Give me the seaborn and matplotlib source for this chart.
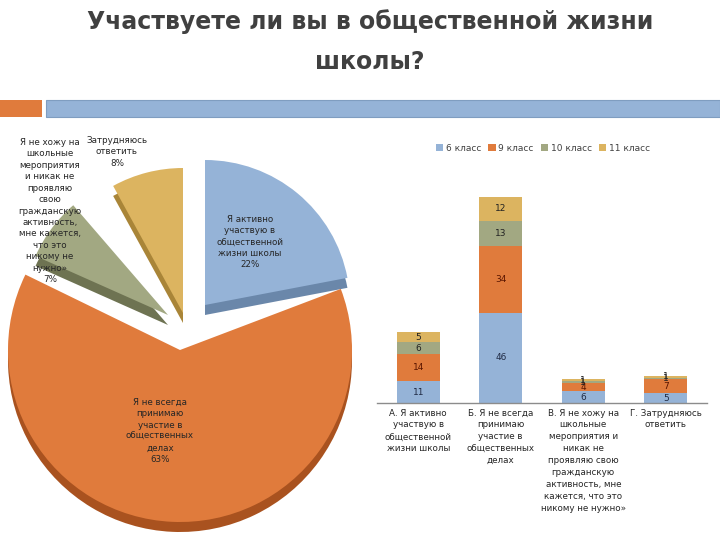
import matplotlib
matplotlib.use("Agg")
import matplotlib.pyplot as plt
from matplotlib.patches import Rectangle, Patch
import seaborn as sns
import pandas as pd
import numpy as np

# ---------------- data ----------------
title_line1 = "Участвуете ли вы в общественной жизни"
title_line2 = "школы?"

pie_labels = [
    "Я активно\nучаствую в\nобщественной\nжизни школы\n22%",
    "Я не всегда\nпринимаю\nучастие в\nобщественных\nделах\n63%",
    "Я не хожу на\nшкольные\nмероприятия\nи никак не\nпроявляю\nсвою\nгражданскую\nактивность,\nмне кажется,\nчто это\nникому не\nнужно»\n7%",
    "Затрудняюсь\nответить\n8%",
]
pie_values = [22, 63, 7, 8]

categories = [
    "А. Я активно\nучаствую в\nобщественной\nжизни школы",
    "Б. Я не всегда\nпринимаю\nучастие в\nобщественных\nделах",
    "В. Я не хожу на\nшкольные\nмероприятия и\nникак не\nпроявляю свою\nгражданскую\nактивность, мне\nкажется, что это\nникому не нужно»",
    "Г. Затрудняюсь\nответить",
]
series_names = ["6 класс", "9 класс", "10 класс", "11 класс"]
class6 = [11, 46, 6, 5]
class9 = [14, 34, 4, 7]
class10 = [6, 13, 1, 1]
class11 = [5, 12, 1, 1]

# ---------------- style ----------------
sns.set_theme(style="white")
plt.rcParams["font.family"] = ["DejaVu Sans"]

colors = ["#95B3D7", "#E07B3C", "#A2A882", "#DCB460"]
dark_colors = ["#6A87AA", "#A9521F", "#6E7352", "#A98538"]
label_colors = ["#1F2A44", "#5A1500", "#222222", "#222222"]

W, H = 720, 540
fig = plt.figure(figsize=(W / 100, H / 100), dpi=100)
fig.patch.set_facecolor("white")


def fx(x):
    return x / W


def fy(y):
    return 1 - y / H


# ---------------- title ----------------
fig.text(fx(370), fy(22), title_line1, ha="center", va="center",
         fontsize=17, fontweight="bold", color="#404040")
fig.text(fx(370), fy(62), title_line2, ha="center", va="center",
         fontsize=17, fontweight="bold", color="#404040")

# header bar
fig.patches.append(Rectangle((fx(0), fy(117)), fx(42), (117 - 100) / H,
                             transform=fig.transFigure, facecolor="#E07B3C",
                             edgecolor="none"))
fig.patches.append(Rectangle((fx(46), fy(117)), fx(720 - 46), (117 - 100) / H,
                             transform=fig.transFigure, facecolor="#95B3D7",
                             edgecolor="#7F9DC0", linewidth=0.8))

# ---------------- pie (3D-like, pixel data units) ----------------
PX0, PY0, PX1, PY1 = 0, 150, 370, 540
ax_pie = fig.add_axes([fx(PX0), fy(PY1), (PX1 - PX0) / W, (PY1 - PY0) / H])
# per wedge: apex (px), radius (px), start angle of the pie rotation
wedge_geom = [
    ((205, 305), 145, 90),
    ((180, 350), 172, 100),
    ((168, 315), 145, 102),
    ((183, 313), 145, 90),
]
depth = 10
transparent = (0, 0, 0, 0)
for i, ((apx, apy), r, sa) in enumerate(wedge_geom):
    cx, cy = apx, PY1 - apy
    for shade, dy in ((dark_colors, -depth), (colors, 0)):
        cols = [shade[k] if k == i else transparent for k in range(len(pie_values))]
        ax_pie.pie(pie_values, colors=cols, startangle=sa, counterclock=False,
                   radius=r, center=(cx, cy + dy), frame=True,
                   wedgeprops=dict(linewidth=0))
ax_pie.set_aspect("auto")
ax_pie.set_xlim(PX0, PX1)
ax_pie.set_ylim(0, PY1 - PY0)
ax_pie.axis("off")

pie_label_pos = [(250, 242), (160, 431), (50, 211), (117, 152)]
for txt, (px, py) in zip(pie_labels, pie_label_pos):
    fig.text(fx(px), fy(py), txt, ha="center", va="center", fontsize=6.3,
             color="#262626", linespacing=1.35)

# ---------------- stacked bars ----------------
ax = fig.add_axes([fx(377), fy(403), (707 - 377) / W, (403 - 140) / H])
series = [class6, class9, class10, class11]
df = pd.DataFrame({"cat": list(range(len(categories)))})
cum = np.zeros(len(categories))
cums = []
for s in series:
    cum = cum + np.array(s)
    cums.append(cum.copy())

for i in reversed(range(len(series))):
    sns.barplot(x=df["cat"], y=cums[i], color=colors[i], width=0.52,
                ax=ax, saturation=1, linewidth=0, order=list(range(len(categories))))

bottom = np.zeros(len(categories))
for i, s in enumerate(series):
    for j, v in enumerate(s):
        if v > 0:
            ax.text(j, bottom[j] + v / 2, str(v), ha="center", va="center",
                    fontsize=6.5, color=label_colors[i])
    bottom = bottom + np.array(s)

ax.set_xlim(-0.5, len(categories) - 0.5)
ax.set_ylim(0, (403 - 140) / 1.96)
ax.set_xticks(range(len(categories)))
ax.set_xticklabels(categories, fontsize=6.3, color="#262626", linespacing=1.42)
ax.tick_params(axis="x", length=0, pad=4)
ax.set_yticks([])
ax.set_xlabel("")
ax.set_ylabel("")
for sp in ["top", "left", "right"]:
    ax.spines[sp].set_visible(False)
ax.spines["bottom"].set_color("#8C8C8C")
ax.spines["bottom"].set_linewidth(1.0)
ax.set_facecolor("none")

handles = [Patch(facecolor=c, edgecolor="none", label=n)
           for c, n in zip(colors, series_names)]
fig.legend(handles=handles, loc="center", bbox_to_anchor=(fx(543), fy(148)),
           ncol=4, frameon=False, fontsize=6.5, handlelength=0.8,
           handleheight=0.8, handletextpad=0.3, columnspacing=0.8,
           labelcolor="#404040")

fig.savefig("out.png", dpi=100)
